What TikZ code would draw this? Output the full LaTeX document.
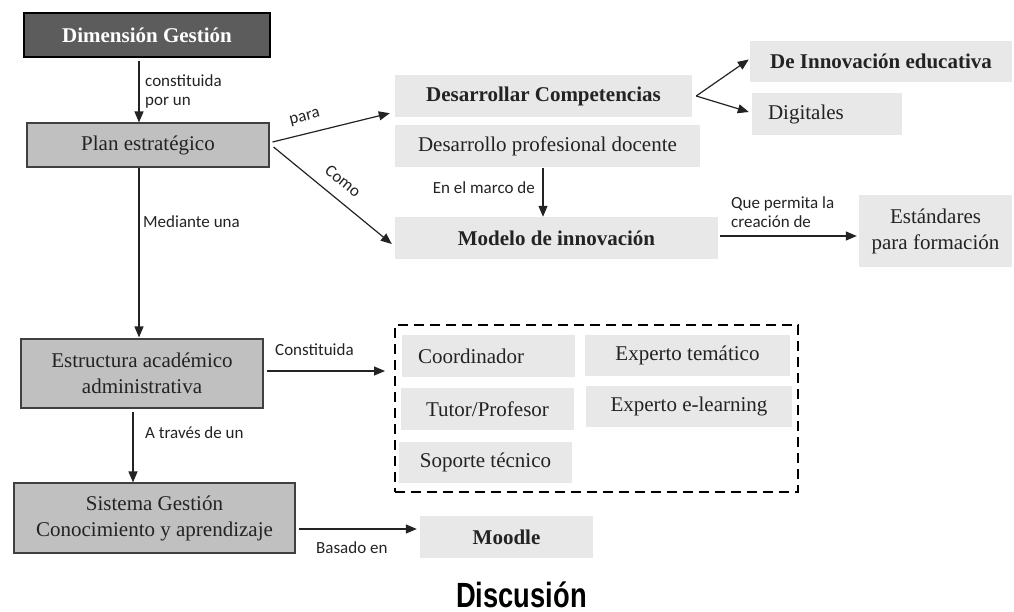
\documentclass[tikz,border=0pt]{standalone}
\usepackage{fontspec}
\setmainfont{Liberation Serif}
\newfontfamily\labfont{Carlito}
\newfontfamily\titlefont{Liberation Sans}
\usetikzlibrary{calc,arrows.meta}
\definecolor{darkfill}{RGB}{92,92,92}
\definecolor{midfill}{RGB}{192,192,192}
\definecolor{lightfill}{RGB}{232,232,232}
\definecolor{ink}{RGB}{35,35,35}
\begin{document}
\begin{tikzpicture}[x=1pt,y=-1pt,
  base/.style={inner sep=0pt, font=\fontsize{21}{26}\selectfont, text=ink, align=center},
  darkbox/.style={base, fill=darkfill, draw=black, line width=1.3pt, text=white,
    font=\fontsize{21}{26}\selectfont\bfseries},
  midbox/.style={base, fill=midfill, draw=black!75, line width=1.1pt},
  lightbox/.style={base, fill=lightfill},
  boldbox/.style={lightbox, font=\fontsize{21}{26}\selectfont\bfseries},
  framebox/.style={draw=black, line width=2pt, dash pattern=on 10pt off 6pt, inner sep=0pt},
  conn/.style={draw=ink, line width=1.2pt, -{Triangle[length=11pt,width=9pt]}},
  lab/.style={font=\labfont\fontsize{17}{19}\selectfont, text=ink, inner sep=0pt, align=left},
]
\useasboundingbox (0,0) rectangle (1014,612);

% left column
\node[darkbox, minimum width=246pt, minimum height=44pt] (dg) at (147,35) {Dimensión Gestión};
\node[midbox, minimum width=242pt, minimum height=44pt] (pe) at (148,145) {Plan estratégico};
\node[midbox, minimum width=242pt, minimum height=69pt] (eaa) at (142,373.5) {Estructura académico\\administrativa};
\node[midbox, minimum width=281pt, minimum height=70pt] (sgca) at (154.5,518) {Sistema Gestión\\Conocimiento y aprendizaje};

% middle column
\node[boldbox, minimum width=297pt, minimum height=42pt] (dc) at (543.5,96) {Desarrollar Competencias};
\node[lightbox, minimum width=305pt, minimum height=42pt] (dpd) at (547.5,146) {Desarrollo profesional docente};
\node[boldbox, minimum width=323pt, minimum height=42pt] (mi) at (556.5,238) {Modelo de innovación};

% right column
\node[boldbox, minimum width=262pt, minimum height=41pt] (die) at (881,61.5) {De Innovación educativa};
\node[lightbox, minimum width=150pt, minimum height=42pt, text width=118pt, inner xsep=16pt, align=left] (dig) at (827,114) {Digitales};
\node[lightbox, minimum width=153pt, minimum height=72pt] (est) at (935.5,231) {Estándares\\para formación};

% team roles
\node[framebox, minimum width=403pt, minimum height=167pt] (team) at (596.5,408.5) {};
\node[lightbox, minimum width=173pt, minimum height=42pt, text width=141pt, inner xsep=16pt, align=left] (coord) at (488.5,356) {Coordinador};
\node[lightbox, minimum width=205pt, minimum height=41pt] (et) at (687.5,355.5) {Experto temático};
\node[lightbox, minimum width=173pt, minimum height=42pt] (tp) at (487.5,409) {Tutor/Profesor};
\node[lightbox, minimum width=206pt, minimum height=41pt] (eel) at (689,406.5) {Experto e-learning};
\node[lightbox, minimum width=173pt, minimum height=41pt] (st) at (485.5,462.5) {Soporte técnico};

\node[boldbox, minimum width=173pt, minimum height=42pt] (moodle) at (506.5,537) {Moodle};

% connectors
\draw[conn] ($(dg.south)+(-8,3)$) -- ($(pe.north)+(-9,0)$);
\node[lab, anchor=west] (l1) at (145,91) {constituida\\por un};

\draw[conn] ($(pe.east)+(3,-3)$) -- ($(dc.south west)+(-5,-4)$);
\node[lab, rotate=14] (l2) at (305,118) {para};

\draw[conn] ($(pe.east)+(4,2)$) -- ($(mi.west)+(-3,6)$);
\node[lab, rotate=-39] (l3) at (343,181) {Como};

\draw[conn] ($(pe.south)+(-9,0)$) -- ($(eaa.north)+(-3,-1)$);
\node[lab, anchor=west] (l4) at (143,222) {Mediante una};

\draw[conn] ($(dc.east)+(4,0)$) -- ($(die.west)+(-1,-2)$);
\draw[conn] ($(dc.east)+(4,0)$) -- ($(dig.west)+(-3,-2)$);

\draw[conn] ($(dpd.south)+(-4.5,1)$) -- ($(mi.north -| dpd.south)+(-4.5,0)$);
\node[lab, anchor=east] (l5) at (535,188) {En el marco de};

\draw[conn] ($(mi.east)+(2,-2)$) -- ($(mi.east -| est.west)+(-2,-2)$);
\node[lab, anchor=west] (l6) at (731,212) {Que permita la\\creación de};

\draw[conn] ($(eaa.east)+(3,-2.5)$) -- ($(eaa.east -| team.west)+(-9,-2.5)$);
\node[lab, anchor=west] (l7) at (275,350) {Constituida};

\draw[conn] ($(eaa.south)+(-9,3)$) -- ($(sgca.north)+(-21.5,0)$);
\node[lab, anchor=west] (l8) at (145,433) {A través de un};

\draw[conn] ($(sgca.east)+(3,11)$) -- ($(sgca.east -| moodle.west)+(-3,11)$);
\node[lab, anchor=west] (l9) at (316,548) {Basado en};

% caption
\node[font=\titlefont\bfseries\fontsize{35}{40}\selectfont, anchor=base, inner sep=0pt, text=black] (title) at (521.5,607) {\scalebox{0.78}[1]{Discusión}};
\end{tikzpicture}
\end{document}
